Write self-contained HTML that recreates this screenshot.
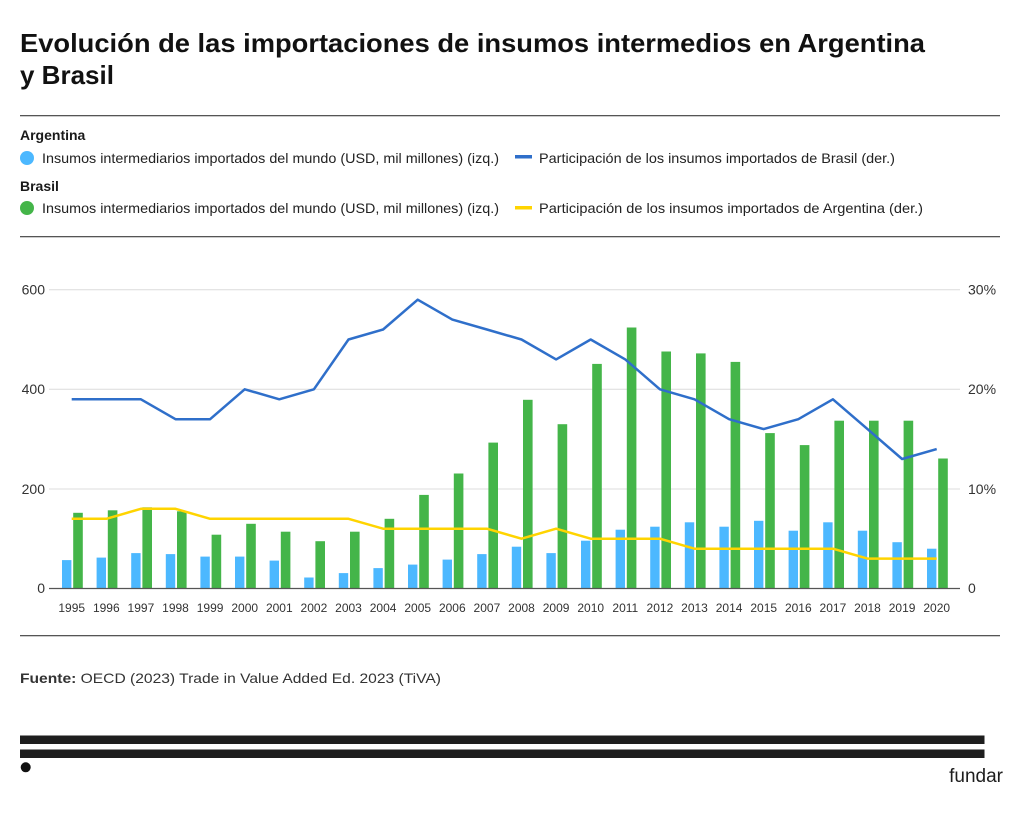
<!DOCTYPE html>
<html>
<head>
<meta charset="utf-8">
<style>
  html, body { margin: 0; padding: 0; background: #ffffff; }
  body { width: 1024px; height: 820px; overflow: hidden; }
  svg { display: block; font-family: "Liberation Sans", Arial, sans-serif; }
</style>
</head>
<body>
<svg width="1024" height="820" viewBox="0 0 1024 820" xmlns="http://www.w3.org/2000/svg">
  <rect x="0" y="0" width="1024" height="820" fill="#ffffff"/>

  <!-- Title -->
  <text x="20" y="52" font-size="26" font-weight="bold" fill="#111" textLength="905" lengthAdjust="spacingAndGlyphs">Evolución de las importaciones de insumos intermedios en Argentina</text>
  <text x="20" y="84" font-size="26" font-weight="bold" fill="#111">y Brasil</text>

  <!-- Legend separators -->
  <rect x="20" y="115" width="980" height="1.3" fill="#555"/>
  <rect x="20" y="236" width="980" height="1.3" fill="#555"/>

  <!-- Legend -->
  <text x="20" y="140" font-size="14" font-weight="bold" fill="#1a1a1a">Argentina</text>
  <circle cx="27" cy="158" r="7" fill="#4cb8ff"/>
  <text x="42" y="163" font-size="14" fill="#222" textLength="457" lengthAdjust="spacingAndGlyphs">Insumos intermediarios importados del mundo (USD, mil millones) (izq.)</text>
  <rect x="515" y="155" width="17" height="3.5" fill="#2f6fca"/>
  <text x="539" y="163" font-size="14" fill="#222" textLength="356" lengthAdjust="spacingAndGlyphs">Participación de los insumos importados de Brasil (der.)</text>

  <text x="20" y="191" font-size="14" font-weight="bold" fill="#1a1a1a">Brasil</text>
  <circle cx="27" cy="208" r="7" fill="#44b549"/>
  <text x="42" y="213" font-size="14" fill="#222" textLength="457" lengthAdjust="spacingAndGlyphs">Insumos intermediarios importados del mundo (USD, mil millones) (izq.)</text>
  <rect x="515" y="206" width="17" height="3.5" fill="#ffd400"/>
  <text x="539" y="213" font-size="14" fill="#222" textLength="384" lengthAdjust="spacingAndGlyphs">Participación de los insumos importados de Argentina (der.)</text>

  <!-- Gridlines -->
  <g stroke="#dcdcdc" stroke-width="1">
    <line x1="49" y1="289.7" x2="960" y2="289.7"/>
    <line x1="49" y1="389.3" x2="960" y2="389.3"/>
    <line x1="49" y1="489" x2="960" y2="489"/>
  </g>

  <!-- Left axis labels -->
  <g font-size="14" fill="#333" text-anchor="end">
    <text x="45" y="294.5">600</text>
    <text x="45" y="394">400</text>
    <text x="45" y="494">200</text>
    <text x="45" y="593">0</text>
  </g>
  <!-- Right axis labels -->
  <g font-size="14" fill="#333">
    <text x="968" y="294.5">30%</text>
    <text x="968" y="394">20%</text>
    <text x="968" y="494">10%</text>
    <text x="968" y="593">0</text>
  </g>

  <!-- Argentina bars (light blue) -->
  <g fill="#4cb8ff">
    <rect x="62.0" y="560.1" width="9.4" height="28.4"/>
    <rect x="96.6" y="557.6" width="9.4" height="30.9"/>
    <rect x="131.2" y="553.1" width="9.4" height="35.4"/>
    <rect x="165.8" y="554.1" width="9.4" height="34.4"/>
    <rect x="200.4" y="556.6" width="9.4" height="31.9"/>
    <rect x="235.0" y="556.6" width="9.4" height="31.9"/>
    <rect x="269.6" y="560.6" width="9.4" height="27.9"/>
    <rect x="304.2" y="577.5" width="9.4" height="11.0"/>
    <rect x="338.8" y="573.1" width="9.4" height="15.4"/>
    <rect x="373.4" y="568.1" width="9.4" height="20.4"/>
    <rect x="408.0" y="564.6" width="9.4" height="23.9"/>
    <rect x="442.6" y="559.6" width="9.4" height="28.9"/>
    <rect x="477.2" y="554.1" width="9.4" height="34.4"/>
    <rect x="511.8" y="546.7" width="9.4" height="41.8"/>
    <rect x="546.4" y="553.1" width="9.4" height="35.4"/>
    <rect x="581.0" y="540.7" width="9.4" height="47.8"/>
    <rect x="615.6" y="529.7" width="9.4" height="58.8"/>
    <rect x="650.2" y="526.7" width="9.4" height="61.8"/>
    <rect x="684.8" y="522.3" width="9.4" height="66.2"/>
    <rect x="719.4" y="526.7" width="9.4" height="61.8"/>
    <rect x="754.0" y="520.8" width="9.4" height="67.7"/>
    <rect x="788.6" y="530.7" width="9.4" height="57.8"/>
    <rect x="823.2" y="522.3" width="9.4" height="66.2"/>
    <rect x="857.8" y="530.7" width="9.4" height="57.8"/>
    <rect x="892.4" y="542.2" width="9.4" height="46.3"/>
    <rect x="927.0" y="548.7" width="9.4" height="39.8"/>
  </g>

  <!-- Brasil bars (green) -->
  <g fill="#44b549">
    <rect x="73.2" y="512.8" width="9.6" height="75.7"/>
    <rect x="107.8" y="510.3" width="9.6" height="78.2"/>
    <rect x="142.4" y="507.3" width="9.6" height="81.2"/>
    <rect x="177.0" y="511.3" width="9.6" height="77.2"/>
    <rect x="211.6" y="534.7" width="9.6" height="53.8"/>
    <rect x="246.2" y="523.8" width="9.6" height="64.7"/>
    <rect x="280.8" y="531.7" width="9.6" height="56.8"/>
    <rect x="315.4" y="541.2" width="9.6" height="47.3"/>
    <rect x="350.0" y="531.7" width="9.6" height="56.8"/>
    <rect x="384.6" y="518.8" width="9.6" height="69.7"/>
    <rect x="419.2" y="494.9" width="9.6" height="93.6"/>
    <rect x="453.8" y="473.5" width="9.6" height="115.0"/>
    <rect x="488.4" y="442.6" width="9.6" height="145.9"/>
    <rect x="523.0" y="399.8" width="9.6" height="188.7"/>
    <rect x="557.6" y="424.2" width="9.6" height="164.3"/>
    <rect x="592.2" y="363.9" width="9.6" height="224.6"/>
    <rect x="626.8" y="327.5" width="9.6" height="261.0"/>
    <rect x="661.4" y="351.5" width="9.6" height="237.0"/>
    <rect x="696.0" y="353.4" width="9.6" height="235.1"/>
    <rect x="730.6" y="361.9" width="9.6" height="226.6"/>
    <rect x="765.2" y="433.1" width="9.6" height="155.4"/>
    <rect x="799.8" y="445.1" width="9.6" height="143.4"/>
    <rect x="834.4" y="420.7" width="9.6" height="167.8"/>
    <rect x="869.0" y="420.7" width="9.6" height="167.8"/>
    <rect x="903.6" y="420.7" width="9.6" height="167.8"/>
    <rect x="938.2" y="458.5" width="9.6" height="130.0"/>
  </g>

  <!-- Baseline axis -->
  <line x1="49" y1="588.5" x2="960" y2="588.5" stroke="#555" stroke-width="1.2"/>

  <!-- Blue line: Participación de Brasil -->
  <polyline fill="none" stroke="#2f6fca" stroke-width="2.5" stroke-linejoin="round"
    points="71.7,399.3 106.3,399.3 140.9,399.3 175.5,419.2 210.1,419.2 244.7,389.3 279.3,399.3 313.9,389.3 348.5,339.5 383.1,329.5 417.7,299.7 452.3,319.6 486.9,329.5 521.5,339.5 556.1,359.4 590.7,339.5 625.3,359.4 659.9,389.3 694.5,399.3 729.1,419.2 763.7,429.1 798.3,419.2 832.9,399.3 867.5,429.1 902.1,459.0 936.7,449.1"/>

  <!-- Yellow line: Participación de Argentina -->
  <polyline fill="none" stroke="#ffd400" stroke-width="2.5" stroke-linejoin="round"
    points="71.7,518.8 106.3,518.8 140.9,508.8 175.5,508.8 210.1,518.8 244.7,518.8 279.3,518.8 313.9,518.8 348.5,518.8 383.1,528.7 417.7,528.7 452.3,528.7 486.9,528.7 521.5,538.7 556.1,528.7 590.7,538.7 625.3,538.7 659.9,538.7 694.5,548.7 729.1,548.7 763.7,548.7 798.3,548.7 832.9,548.7 867.5,558.6 902.1,558.6 936.7,558.6"/>

  <!-- X axis labels -->
  <g font-size="12" fill="#333" text-anchor="middle">
    <text x="71.7" y="612">1995</text>
    <text x="106.3" y="612">1996</text>
    <text x="140.9" y="612">1997</text>
    <text x="175.5" y="612">1998</text>
    <text x="210.1" y="612">1999</text>
    <text x="244.7" y="612">2000</text>
    <text x="279.3" y="612">2001</text>
    <text x="313.9" y="612">2002</text>
    <text x="348.5" y="612">2003</text>
    <text x="383.1" y="612">2004</text>
    <text x="417.7" y="612">2005</text>
    <text x="452.3" y="612">2006</text>
    <text x="486.9" y="612">2007</text>
    <text x="521.5" y="612">2008</text>
    <text x="556.1" y="612">2009</text>
    <text x="590.7" y="612">2010</text>
    <text x="625.3" y="612">2011</text>
    <text x="659.9" y="612">2012</text>
    <text x="694.5" y="612">2013</text>
    <text x="729.1" y="612">2014</text>
    <text x="763.7" y="612">2015</text>
    <text x="798.3" y="612">2016</text>
    <text x="832.9" y="612">2017</text>
    <text x="867.5" y="612">2018</text>
    <text x="902.1" y="612">2019</text>
    <text x="936.7" y="612">2020</text>
  </g>

  <!-- Bottom separator -->
  <rect x="20" y="635" width="980" height="1.3" fill="#555"/>

  <!-- Source -->
  <text x="20" y="683" font-size="14" fill="#333" textLength="421" lengthAdjust="spacingAndGlyphs"><tspan font-weight="bold">Fuente:</tspan> OECD (2023) Trade in Value Added Ed. 2023 (TiVA)</text>

  <!-- Footer brand -->
  <rect x="20" y="735.5" width="964.5" height="8.5" fill="#1e1e1e"/>
  <rect x="20" y="749.5" width="964.5" height="8.5" fill="#1e1e1e"/>
  <circle cx="25.7" cy="767.3" r="5" fill="#111"/>
  <text x="1003" y="782" font-size="19" fill="#1e1e1e" text-anchor="end">fundar</text>
</svg>
</body>
</html>
